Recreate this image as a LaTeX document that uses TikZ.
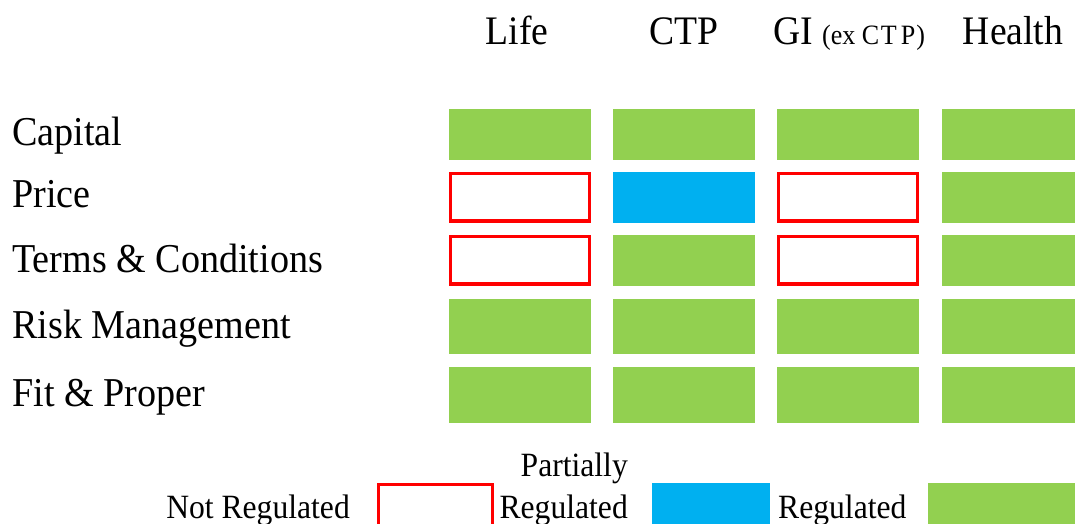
\documentclass[tikz,border=0pt]{standalone}
\usepackage{fontspec}
\setmainfont{Liberation Serif}[FakeStretch=0.93]
\definecolor{regGreen}{HTML}{92D050}
\definecolor{partBlue}{HTML}{00B0F0}
\definecolor{notRed}{HTML}{FF0000}
\begin{document}
\begin{tikzpicture}[x=1pt,y=-1pt,
  reg/.style={inner sep=0pt,outer sep=0pt,fill=regGreen,minimum width=142pt},
  part/.style={inner sep=0pt,outer sep=0pt,fill=partBlue,minimum width=142pt},
  notreg/.style={inner sep=0pt,outer sep=0pt,draw=notRed,line width=3.3pt,minimum width=138.7pt},
  rowlab/.style={anchor=base west,inner sep=0pt,font=\fontsize{41}{45}\selectfont},
  colhead/.style={anchor=base,inner sep=0pt,font=\fontsize{40.5}{45}\selectfont},
  legtext/.style={inner sep=0pt,font=\fontsize{34}{38}\selectfont}
]
\useasboundingbox (0,0) rectangle (1075,524);
\clip (0,0) rectangle (1075,524);
\fill[white] (0,0) rectangle (1075,524);

% column headers
\node[colhead] (hLife) at (517,45) {Life};
\node[colhead] (hCTP) at (684,45) {CTP};
\node[colhead] (hGI) at (849,45) {GI {\fontsize{28}{32}\selectfont (ex C\kern1.5pt T\kern4pt P\kern1pt)}};
\node[colhead] (hHealth) at (1013,45) {Health};

% row labels
\node[rowlab] (lCap) at (12,145.7) {Capital};
\node[rowlab] (lPrice) at (12,207.3) {Price};
\node[rowlab] (lTC) at (12,272.3) {Terms \& Conditions};
\node[rowlab] (lRisk) at (12,338.7) {Risk Management};
\node[rowlab] (lFit) at (12,406) {Fit \& Proper};

% Capital row (109-160)
\node[reg,minimum height=51pt] (capLife) at (520,134.5) {};
\node[reg,minimum height=51pt] (capCTP) at (684,134.5) {};
\node[reg,minimum height=51pt] (capGI) at (848,134.5) {};
\node[reg,minimum height=51pt] (capHealth) at (1013,134.5) {};
% Price row (172-222.5)
\node[notreg,minimum height=47.2pt] (prLife) at (520,197.25) {};
\node[part,minimum height=50.5pt] (prCTP) at (684,197.25) {};
\node[notreg,minimum height=47.2pt] (prGI) at (848,197.25) {};
\node[reg,minimum height=50.5pt] (prHealth) at (1013,197.25) {};
% Terms & Conditions row (235-285.5)
\node[notreg,minimum height=47.2pt] (tcLife) at (520,260.25) {};
\node[reg,minimum height=50.5pt] (tcCTP) at (684,260.25) {};
\node[notreg,minimum height=47.2pt] (tcGI) at (848,260.25) {};
\node[reg,minimum height=50.5pt] (tcHealth) at (1013,260.25) {};
% Risk Management row (299-354)
\node[reg,minimum height=55pt] (rmLife) at (520,326.5) {};
\node[reg,minimum height=55pt] (rmCTP) at (684,326.5) {};
\node[reg,minimum height=55pt] (rmGI) at (848,326.5) {};
\node[reg,minimum height=55pt] (rmHealth) at (1013,326.5) {};
% Fit & Proper row (367-422.5)
\node[reg,minimum height=55.5pt] (fpLife) at (520,394.75) {};
\node[reg,minimum height=55.5pt] (fpCTP) at (684,394.75) {};
\node[reg,minimum height=55.5pt] (fpGI) at (848,394.75) {};
\node[reg,minimum height=55.5pt] (fpHealth) at (1013,394.75) {};

% legend
\node[legtext,anchor=base east] (tNot) at (350,518) {Not Regulated};
\node[notreg,minimum width=113.7pt,minimum height=50pt] (kNot) at (435.5,509.5) {};
\node[legtext,anchor=base east] (tPart1) at (628,476) {Partially};
\node[legtext,anchor=base east] (tPart2) at (628,518) {Regulated};
\node[part,minimum width=118pt,minimum height=50pt] (kPart) at (711,508) {};
\node[legtext,anchor=base west] (tReg) at (778,518) {Regulated};
\node[reg,minimum width=147pt,minimum height=50pt] (kReg) at (1001.5,508) {};
\end{tikzpicture}
\end{document}
